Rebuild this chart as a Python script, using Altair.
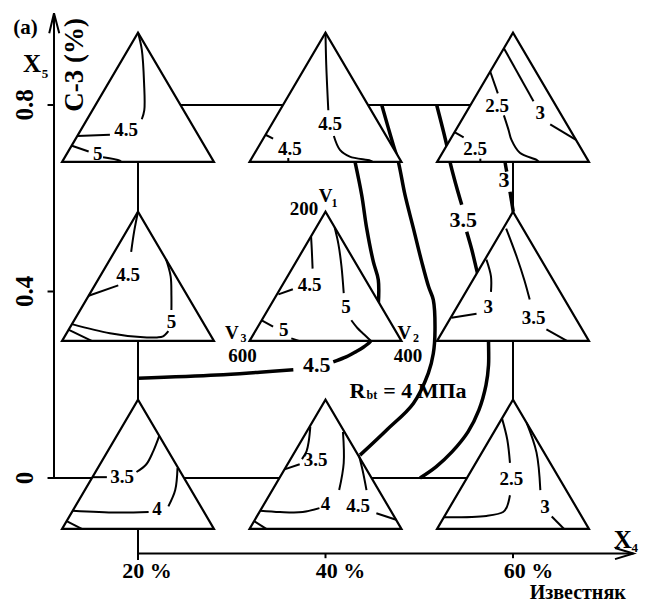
import altair as alt
import pandas as pd

# ---------------- data ----------------
X4_LEVELS = [20, 40, 60]          # X4, % limestone
X5_LEVELS = [0.0, 0.4, 0.8]       # X5, % C-3

# triangle placement (data units)
TRI_BASE = {0.8: 0.678, 0.4: 0.294, 0.0: -0.109}
TRI_H = 0.277
TRI_HW = 8.1

# inner iso-lines of each ternary diagram, in triangle-local (u, v):
# u = -1 (V3 corner) .. 1 (V2 corner), v = 0 (base) .. 1 (V1 apex)
INNER_LINES = {
    (20, 0.8): [
        [(0, 1), (0.05, 0.87), (0.08, 0.61), (0.083, 0.40), (0.05, 0.33)],
        [(-0.37, 0.21), (-0.8, 0.2)],
        [(-0.87, 0.125), (-0.65, 0.08)],
        [(-0.46, 0.036), (-0.24, 0.01), (-0.22, 0.0)],
    ],
    (40, 0.8): [
        [(0, 1), (0.01, 0.75), (0.037, 0.40)],
        [(0.11, 0.2), (0.19, 0.093), (0.32, 0.041), (0.59, 0.01), (0.62, 0.0)],
        [(-0.79, 0.21), (-0.69, 0.18)],
        [(-0.49, 0.03), (-0.49, 0.0)],
    ],
    (60, 0.8): [
        [(-0.30, 0.70), (-0.2, 0.53)],
        [(-0.12, 0.36), (-0.06, 0.25), (-0.02, 0.17), (0.09, 0.07), (0.31, 0.015), (0.34, 0.0)],
        [(-0.12, 0.88), (0.27, 0.47)],
        [(0.49, 0.29), (0.83, 0.17)],
        [(-0.77, 0.23), (-0.65, 0.19)],
        [(-0.43, 0.025), (-0.43, 0.0)],
    ],
    (20, 0.4): [
        [(0, 1), (-0.05, 0.85), (-0.09, 0.69)],
        [(-0.26, 0.43), (-0.65, 0.35)],
        [(0.37, 0.63), (0.43, 0.5), (0.44, 0.35), (0.44, 0.24)],
        [(0.40, 0.075), (0.33, 0.035), (0.25, 0.027), (0.03, 0.03), (-0.37, 0.06), (-0.87, 0.13)],
        [(-0.91, 0.085), (-0.61, 0.0)],
    ],
    (40, 0.4): [
        [(-0.19, 0.81), (-0.18, 0.70), (-0.17, 0.56)],
        [(-0.43, 0.40), (-0.62, 0.36)],
        [(0.12, 0.88), (0.17, 0.75), (0.21, 0.58), (0.24, 0.37)],
        [(0.34, 0.16), (0.42, 0.10), (0.49, 0.06), (0.6, 0.0)],
        [(-0.84, 0.16), (-0.69, 0.11)],
        [(-0.45, 0.02), (-0.35, 0.0)],
    ],
    (60, 0.4): [
        [(-0.35, 0.63), (-0.29, 0.50), (-0.29, 0.38)],
        [(-0.48, 0.21), (-0.81, 0.18)],
        [(-0.09, 0.87), (0.05, 0.65), (0.15, 0.47), (0.22, 0.32)],
        [(0.44, 0.09), (0.71, 0.0)],
    ],
    (20, 0.0): [
        [(0.28, 0.72), (0.2, 0.60), (0.11, 0.5), (-0.02, 0.44)],
        [(-0.41, 0.40), (-0.60, 0.40)],
        [(0.52, 0.47), (0.49, 0.30), (0.40, 0.174)],
        [(0.14, 0.13), (-0.28, 0.126), (-0.86, 0.14)],
        [(-0.94, 0.06), (-0.74, 0.0)],
    ],
    (40, 0.0): [
        [(-0.20, 0.79), (-0.22, 0.68), (-0.25, 0.60), (-0.31, 0.54)],
        [(-0.34, 0.50), (-0.54, 0.46)],
        [(0.23, 0.75), (0.24, 0.51), (0.18, 0.30)],
        [(-0.08, 0.16), (-0.3, 0.13), (-0.6, 0.13), (-0.86, 0.14)],
        [(0.44, 0.57), (0.49, 0.45), (0.54, 0.30)],
        [(0.67, 0.12), (0.93, 0.07)],
        [(-0.94, 0.06), (-0.78, 0.0)],
    ],
    (60, 0.0): [
        [(-0.145, 0.855), (-0.075, 0.69), (-0.04, 0.51)],
        [(-0.04, 0.26), (-0.08, 0.17), (-0.13, 0.13), (-0.35, 0.1), (-0.91, 0.09)],
        [(0.18, 0.82), (0.31, 0.59), (0.36, 0.30)],
        [(0.51, 0.095), (0.67, 0.0)],
    ],
}

# inner labels (u, v, text)
INNER_LABELS = {
    (20, 0.8): [(-0.158, 0.243, "4.5"), (-0.53, 0.062, "5")],
    (40, 0.8): [(0.06, 0.295, "4.5"), (-0.47, 0.098, "4.5")],
    (60, 0.8): [(-0.21, 0.43, "2.5"), (0.36, 0.38, "3"), (-0.5, 0.1, "2.5")],
    (20, 0.4): [(-0.13, 0.51, "4.5"), (0.44, 0.15, "5")],
    (40, 0.4): [(-0.21, 0.434, "4.5"), (0.27, 0.26, "5"), (-0.55, 0.085, "5")],
    (60, 0.4): [(-0.325, 0.266, "3"), (0.27, 0.176, "3.5")],
    (20, 0.0): [(-0.21, 0.40, "3.5"), (0.25, 0.152, "4")],
    (40, 0.0): [(-0.13, 0.53, "3.5"), (0.0, 0.19, "4"), (0.43, 0.178, "4.5")],
    (60, 0.0): [(-0.02, 0.385, "2.5"), (0.42, 0.17, "3")],
}

# iso-lines across the X4-X5 plane (X4 %, X5 %)
R4_X4 = [46.0, 47.23, 47.77, 48.48, 49.37, 50.26, 51.0, 51.5, 51.68, 51.5, 50.97, 49.37, 46.53, 43.68]
R4_X5 = [0.80, 0.714, 0.678, 0.607, 0.536, 0.464, 0.41, 0.382, 0.317, 0.267, 0.225, 0.160, 0.103, 0.049]
A_X4 = [43.15, 43.86, 44.39, 45.10, 45.63, 45.63]
A_X5 = [0.678, 0.607, 0.536, 0.464, 0.425, 0.37]
C1_X4 = [51.86, 52.93, 53.28, 53.9, 54.53]
C1_X5 = [0.80, 0.714, 0.678, 0.63, 0.586]
C2_X4 = [55.06, 55.6, 56.13, 56.3]
C2_X5 = [0.528, 0.49, 0.446, 0.433]
C3_X4 = [57.39, 57.39, 57.39, 57.12, 56.37, 55.2, 53.49, 51.79, 50.08]
C3_X5 = [0.300, 0.292, 0.242, 0.199, 0.146, 0.099, 0.056, 0.024, 0.0]
D1_X4 = [59.12, 59.15, 59.33]
D1_X5 = [0.686, 0.678, 0.657]
D2_X4 = [59.68, 60.03]
D2_X5 = [0.614, 0.571]
E1_X4 = [20, 28.39, 33.0, 36.57]
E1_X5 = [0.214, 0.221, 0.227, 0.232]
E2_X4 = [40.83, 42.0, 43.15, 44.0, 44.75, 45.0]
E2_X5 = [0.249, 0.258, 0.270, 0.28, 0.292, 0.30]

BIG_LABELS = [(39.06, 0.242, "4.5"), (54.70, 0.553, "3.5"), (59.04, 0.639, "3")]

# ---------------- build tables ----------------
FONT = "Liberation Serif"
line_rows = []

def add_line(kind, pts, lid):
    for i, (x, y) in enumerate(pts):
        line_rows.append({"kind": kind, "id": lid, "o": i, "x": x, "y": y})

# frame and axes (thin, straight)
straight = [
    [(20, 0.8), (60, 0.8)],
    [(10.35, 0.0), (60, 0.0)],
    [(20, 0.8), (20, -0.176)],
    [(60, 0.8), (60, 0.0)],
    [(11.04, 0.0), (11.04, 0.997)],
    [(10.53, 0.954), (11.04, 0.997), (11.6, 0.954)],
    [(10.35, 0.4), (11.04, 0.4)],
    [(10.35, 0.8), (11.04, 0.8)],
    [(20, -0.162), (72.85, -0.162)],
    [(70.88, -0.150), (72.85, -0.162), (70.88, -0.174)],
    [(40, -0.162), (40, -0.172)],
    [(60, -0.162), (60, -0.172)],
]
for k, s in enumerate(straight):
    add_line("frame", s, f"f{k}")

big = [(R4_X4, R4_X5), (A_X4, A_X5), (C1_X4, C1_X5), (C2_X4, C2_X5), (C3_X4, C3_X5),
       (D1_X4, D1_X5), (D2_X4, D2_X5), (E1_X4, E1_X5), (E2_X4, E2_X5)]
for k, (xs, ys) in enumerate(big):
    add_line("big", list(zip(xs, ys)), f"b{k}")

def tri_pt(node, u, v):
    x4, x5 = node
    return x4 + u * TRI_HW, TRI_BASE[x5] + v * TRI_H

for node, segs in INNER_LINES.items():
    for k, seg in enumerate(segs):
        add_line("inner", [tri_pt(node, u, v) for u, v in seg], f"i{node}{k}")

lines = pd.DataFrame(line_rows)

tri_rows = []
for x5 in X5_LEVELS:
    for x4 in X4_LEVELS:
        b = TRI_BASE[x5]
        for x, top in [(x4 - TRI_HW, b), (x4, b + TRI_H), (x4 + TRI_HW, b)]:
            tri_rows.append({"id": f"{x4}-{x5}", "x": x, "y": b, "y2": top})
tris = pd.DataFrame(tri_rows)

text_rows = []

def add_text(x, y, t, fs, ang=0):
    text_rows.append({"x": x, "y": y, "t": t, "fs": fs, "ang": ang})

for node, labs in INNER_LABELS.items():
    for u, v, t in labs:
        x, y = tri_pt(node, u, v)
        add_text(x, y, t, 19)
for x, y, t in BIG_LABELS:
    add_text(x, y, t, 22)

# vertex labels of the ternary diagram
add_text(37.7, 0.577, "200", 19)
add_text(40.0, 0.605, "V", 19); add_text(40.95, 0.590, "1", 12)
add_text(30.0, 0.312, "V", 19); add_text(31.25, 0.300, "3", 12)
add_text(31.15, 0.262, "600", 19)
add_text(48.4, 0.312, "V", 19); add_text(49.65, 0.300, "2", 12)
add_text(48.8, 0.262, "400", 19)
# Rbt label
add_text(43.41, 0.1866, "R", 22); add_text(44.95, 0.178, "bt", 12)
add_text(50.6, 0.1866, "= 4 МПа", 22)
# axes
for yv, t in zip([0.8, 0.4, 0.0], ["0.8", "0.4", "0"]):
    add_text(7.9, yv, t, 25, 270)
for xv, t in zip([20.96, 41.6, 61.65], ["20 %", "40 %", "60 %"]):
    add_text(xv, -0.1995, t, 22)
add_text(66.9, -0.2467, "Известняк", 20)
add_text(71.7, -0.133, "X", 25); add_text(73.0, -0.150, "4", 13)
add_text(8.69, 0.889, "X", 25); add_text(10.08, 0.867, "5", 13)
add_text(13.28, 0.886, "C-3 (%)", 27, 270)
add_text(8.0, 0.966, "(a)", 21)
texts = pd.DataFrame(text_rows)

# ---------------- chart ----------------
XS = alt.Scale(domain=[6.133, 73.547], nice=False, zero=False)
YS = alt.Scale(domain=[-0.27024, 1.00804], nice=False, zero=False)

def X():
    return alt.X("x:Q", scale=XS, axis=None)

def Y():
    return alt.Y("y:Q", scale=YS, axis=None)

frame_layer = alt.Chart(lines).transform_filter(alt.datum.kind == "frame").mark_line(
    color="black", strokeWidth=2, strokeCap="butt"
).encode(x=X(), y=Y(), detail="id:N", order="o:Q")

big_layer = alt.Chart(lines).transform_filter(alt.datum.kind == "big").mark_line(
    color="black", strokeWidth=3.5, interpolate="catmull-rom", strokeCap="butt"
).encode(x=X(), y=Y(), detail="id:N", order="o:Q")

tri_layer = alt.Chart(tris).mark_area(
    fill="white", fillOpacity=1, stroke="black", strokeWidth=2.2, strokeJoin="miter"
).encode(x=X(), y=Y(), y2="y2:Q", detail="id:N")

inner_layer = alt.Chart(lines).transform_filter(alt.datum.kind == "inner").mark_line(
    color="black", strokeWidth=2, interpolate="catmull-rom", strokeCap="butt"
).encode(x=X(), y=Y(), detail="id:N", order="o:Q")

text_layer = alt.Chart(texts).mark_text(
    font=FONT, fontWeight="bold", color="black", align="center", baseline="middle"
).encode(
    x=X(), y=Y(), text="t:N",
    size=alt.Size("fs:Q", scale=None),
    angle=alt.Angle("ang:Q", scale=None),
)

chart = alt.layer(frame_layer, big_layer, tri_layer, inner_layer, text_layer).properties(
    width=632, height=596, padding=0, autosize="none", background="white"
).configure_view(strokeWidth=0)

chart.save("out.html", embed_options={"renderer": "svg", "actions": False})
